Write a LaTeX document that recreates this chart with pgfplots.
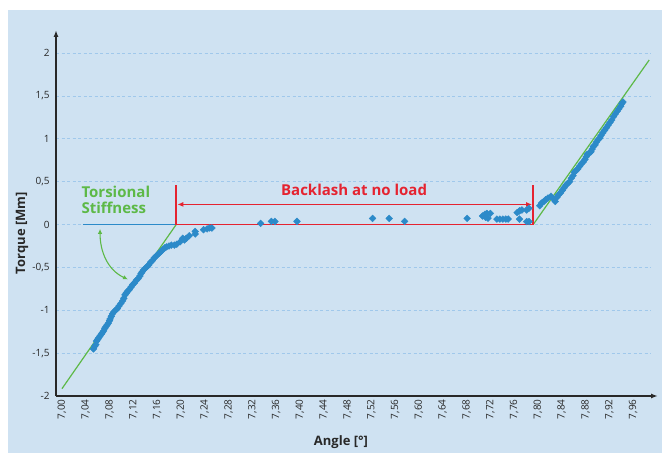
\documentclass[border=0pt]{standalone}
\usepackage{fontspec}
\setmainfont{Open Sans}
\usepackage{pgfplots}
\pgfplotsset{compat=1.18}
\usetikzlibrary{arrows.meta}
\definecolor{bgblue}{RGB}{207,226,242}
\definecolor{gridblue}{RGB}{160,200,235}
\definecolor{datablue}{RGB}{44,138,201}
\definecolor{fitgreen}{RGB}{93,185,71}
\definecolor{annred}{RGB}{229,35,48}
\definecolor{axisgray}{RGB}{40,40,40}
\begin{document}
\begin{tikzpicture}
\useasboundingbox (0,0) rectangle (662bp,453bp);
\fill[white] (0,0) rectangle (662bp,453bp);
\fill[bgblue] (8bp,0) rectangle (662bp,443bp);
\begin{axis}[
  at={(56bp,57bp)}, anchor=south west,
  scale only axis, width=595bp, height=366bp,
  xmin=6.99, xmax=7.99, ymin=-2, ymax=2.27,
  /pgf/number format/assume math mode=true,
  axis lines=left,
  axis line style={draw=axisgray, line width=1.5bp, -{Latex[length=7bp,width=5bp]}},
  x axis line style={shorten >=-7bp},
  major tick length=0pt,
  tick style={draw=none},
  xtick={7.00,7.04,7.08,7.12,7.16,7.20,7.24,7.28,7.32,7.36,7.40,7.44,7.48,7.52,7.56,7.60,7.64,7.68,7.72,7.76,7.80,7.84,7.88,7.92,7.96},
  ytick={-2,-1.5,-1,-0.5,0,0.5,1,1.5,2},
  x tick label style={/pgf/number format/.cd, fixed, fixed zerofill, precision=2, use comma, /tikz/.cd, rotate=90, anchor=east, font=\fontsize{10bp}{12bp}\selectfont, text=axisgray},
  y tick label style={/pgf/number format/.cd, fixed, precision=1, use comma, /tikz/.cd, font=\fontsize{10bp}{12bp}\selectfont, text=axisgray, xshift=-3bp},
  ymajorgrids,
  major grid style={gridblue, dash pattern=on 3bp off 2.5bp, line width=0.8bp},
  xlabel={Angle [°]}, ylabel={Torque [Mm]},
  every axis x label/.style={at={(axis description cs:0.479,-0.126)}, anchor=center, font=\bfseries\fontsize{13bp}{15bp}\selectfont, text=axisgray},
  every axis y label/.style={at={(axis description cs:-0.057,0.445)}, anchor=center, rotate=90, font=\bfseries\fontsize{13bp}{15bp}\selectfont, text=axisgray},
]
% measured torque (diamonds)
\addplot[only marks, mark=square*, mark size=2.4bp, mark options={rotate=45, fill=datablue, draw=datablue}] coordinates {
(7.053,-1.45) (7.055,-1.42) (7.057,-1.40) (7.058,-1.36) (7.060,-1.34) (7.062,-1.32) (7.064,-1.30)
(7.066,-1.28) (7.068,-1.26) (7.070,-1.24) (7.072,-1.21) (7.074,-1.19) (7.076,-1.17) (7.078,-1.15)
(7.080,-1.12) (7.081,-1.10) (7.083,-1.07) (7.085,-1.04) (7.087,-1.02) (7.090,-1.00) (7.093,-0.98)
(7.096,-0.95) (7.099,-0.92) (7.102,-0.89) (7.104,-0.86) (7.106,-0.82) (7.108,-0.80) (7.110,-0.78)
(7.113,-0.76) (7.116,-0.73) (7.119,-0.70) (7.122,-0.68) (7.125,-0.65) (7.128,-0.63) (7.131,-0.60)
(7.133,-0.57) (7.135,-0.55) (7.137,-0.53) (7.140,-0.51) (7.143,-0.49) (7.146,-0.47) (7.149,-0.44)
(7.152,-0.42) (7.155,-0.39) (7.158,-0.37) (7.161,-0.35) (7.164,-0.33) (7.167,-0.31) (7.170,-0.29)
(7.173,-0.27) (7.176,-0.26) (7.180,-0.25) (7.184,-0.24) (7.189,-0.24) (7.193,-0.23) (7.199,-0.20)
(7.203,-0.16) (7.206,-0.18) (7.209,-0.16) (7.214,-0.13) (7.224,-0.08) (7.224,-0.11) (7.238,-0.06)
(7.244,-0.05) (7.248,-0.04) (7.252,-0.04)
(7.334,0.014) (7.352,0.037) (7.358,0.037) (7.395,0.037) (7.522,0.072) (7.550,0.072) (7.576,0.037)
(7.681,0.072) (7.707,0.10) (7.711,0.12) (7.714,0.13) (7.720,0.13) (7.716,0.075) (7.712,0.085)
(7.731,0.064) (7.736,0.064) (7.741,0.064) (7.746,0.064) (7.750,0.064) (7.765,0.14) (7.769,0.16)
(7.773,0.17) (7.769,0.064) (7.781,0.17) (7.785,0.19) (7.781,0.035) (7.785,0.035)
(7.803,0.22) (7.806,0.25) (7.810,0.27) (7.813,0.29) (7.817,0.31) (7.822,0.33) (7.826,0.30)
(7.829,0.27) (7.832,0.32) (7.835,0.35) (7.838,0.37) (7.841,0.40) (7.844,0.43) (7.847,0.46)
(7.850,0.48) (7.853,0.50) (7.856,0.54) (7.859,0.57) (7.861,0.61) (7.864,0.63) (7.867,0.65)
(7.870,0.68) (7.873,0.71) (7.876,0.73) (7.879,0.76) (7.881,0.79) (7.883,0.82) (7.886,0.83)
(7.889,0.85) (7.891,0.88) (7.893,0.91) (7.896,0.93) (7.898,0.96) (7.901,0.99) (7.904,1.01)
(7.906,1.04) (7.909,1.07) (7.912,1.10) (7.915,1.13) (7.918,1.16) (7.921,1.19) (7.924,1.22)
(7.927,1.26) (7.930,1.29) (7.933,1.32) (7.936,1.35) (7.939,1.38) (7.941,1.41) (7.943,1.43)
};
% stiffness lines
\addplot[fitgreen, line width=1.2bp] coordinates {(7.000,-1.915) (7.192,0)};
\addplot[fitgreen, line width=1.2bp] coordinates {(7.792,0) (7.987,1.92)};
\addplot[datablue, line width=1.8bp] coordinates {(7.035,0) (7.192,0)};
% backlash annotation
\draw[annred, line width=1.4bp] (axis cs:7.192,0.46) -- (axis cs:7.192,0) -- (axis cs:7.792,0) -- (axis cs:7.792,0.46);
\draw[annred, line width=1.1bp, {Latex[length=6bp,width=5bp]}-{Latex[length=6bp,width=5bp]}] (axis cs:7.194,0.235) -- (axis cs:7.790,0.235);
\node[annred, font=\bfseries\fontsize{15bp}{18bp}\selectfont] at (axis cs:7.491,0.40) {Backlash at no load};
\node[fitgreen, font=\bfseries\fontsize{15bp}{16bp}\selectfont, align=left, anchor=west] at (axis cs:7.027,0.29) {Torsional\\Stiffness};
\draw[fitgreen, line width=1.1bp, {Latex[length=5bp,width=4.5bp]}-{Latex[length=5bp,width=4.5bp]}] (axis cs:7.064,-0.05) to[out=-90, in=155] (axis cs:7.111,-0.64);
\end{axis}
\end{tikzpicture}
\end{document}
